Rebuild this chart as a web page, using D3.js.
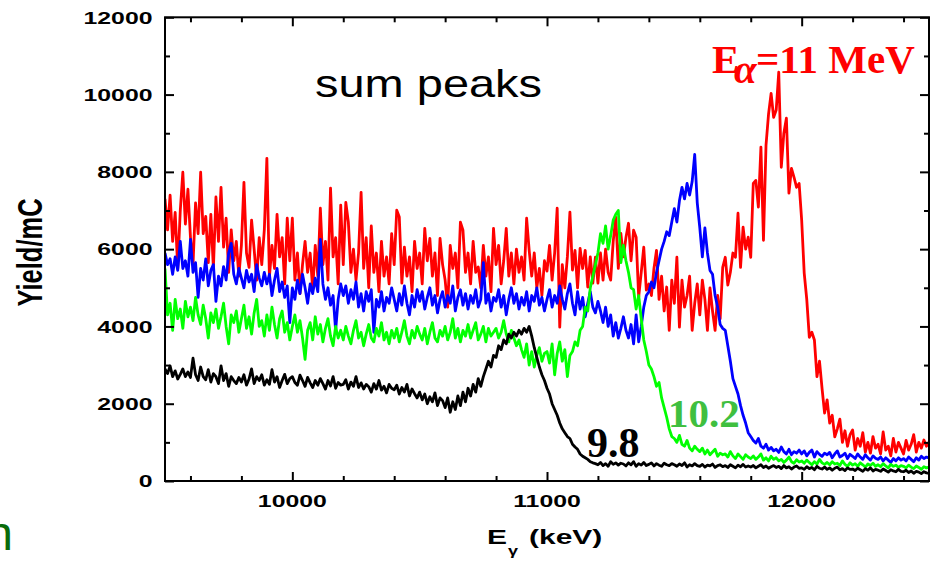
<!DOCTYPE html>
<html>
<head>
<meta charset="utf-8">
<script src="https://cdn.jsdelivr.net/npm/d3@7"></script>
<style>
  html, body { margin: 0; padding: 0; background: #fff; }
  svg { display: block; }
</style>
</head>
<body>
<svg id="chart" width="936" height="562"></svg>
<script>
// Gamma-ray spectra (yield per mC) in 10 keV bins from 9500 keV
const binStart = 9500;
const binWidth = 10;

// E_alpha = 9.8 MeV
const yield98 = [
  2900, 2780, 2980, 2700, 2850, 2640, 2760, 2900, 2700, 2820,
  2680, 3180, 2750, 2600, 2950, 2700, 2620, 2880, 2560, 2780,
  2700, 2520, 2980, 2600, 2780, 2450, 2700, 2600, 2520, 2680,
  2560, 2750, 2480, 2640, 2900, 2520, 2700, 2600, 2750, 2480,
  2620, 2500, 2880, 2560, 2700, 2420, 2600, 2760, 2520, 2650,
  2700, 2550, 2480, 2740, 2600, 2450, 2680, 2540, 2420, 2600,
  2480, 2650, 2520, 2380, 2600, 2460, 2700, 2400, 2550, 2480,
  2500, 2620, 2380, 2560, 2450, 2700, 2420, 2540, 2380, 2500,
  2440, 2300, 2520, 2380, 2600, 2350, 2450, 2280, 2500, 2400,
  2360, 2480, 2250, 2420, 2300, 2500, 2200, 2380, 2260, 2150,
  2300, 2100, 2250, 2000, 2180, 2050, 2280, 1950, 2150, 2080,
  1900, 2150, 1780, 2050, 1850, 2200, 1950, 2300, 2050, 2400,
  2200, 2500, 2300, 2650, 2450, 2700, 2900, 3100, 2950, 3250,
  3200, 3500, 3400, 3650, 3550, 3800, 3700, 3850, 3750, 3900,
  3800, 3950, 3850, 4000, 3750, 3450, 3200, 2950, 2750, 2600,
  2400, 2250, 2000, 1850, 1700, 1500, 1350, 1250, 1150, 1100,
  950, 880, 820, 700, 640, 600, 560, 500, 470, 450,
  420, 480, 400, 450, 380, 500, 430, 470, 410, 460,
  440, 390, 470, 420, 500, 380, 450, 410, 480, 400,
  430, 470, 390, 450, 410, 380, 460, 420, 400, 450,
  420, 380, 440, 400, 470, 360, 420, 390, 450, 400,
  380, 430, 360, 410, 390, 440, 350, 400, 420, 370,
  400, 350, 420, 380, 340, 410, 370, 430, 360, 390,
  360, 400, 340, 380, 420, 350, 390, 330, 370, 400,
  350, 380, 320, 400, 340, 370, 310, 360, 390, 330,
  340, 300, 370, 320, 350, 290, 380, 330, 310, 360,
  300, 340, 280, 330, 360, 290, 320, 270, 340, 300,
  310, 270, 330, 290, 250, 320, 280, 340, 260, 300,
  280, 250, 310, 270, 230, 290, 260, 240, 300, 250,
  240, 280, 220, 260, 200, 250, 230, 190, 240, 210,
  200
];

// E_alpha = 10.2 MeV
const yield102 = [
  5500, 4300, 4600, 3900, 4700, 4200, 4450, 3950, 4650, 4250,
  4500, 4150, 4750, 4300, 4050, 4550, 4200, 3700, 4350, 4100,
  4450, 3950, 4250, 4600, 4000, 3550, 4300, 4100, 4400, 3850,
  4200, 4550, 3950, 4250, 3800, 4350, 4700, 4000, 4150, 3750,
  4300, 3900, 4500, 4050, 3700, 4200, 4400, 3850, 4100, 3650,
  4000, 4300, 3850, 4150, 3700, 3150, 3900, 4100, 3650, 4250,
  3800, 4050, 3600, 3950, 4200, 3750, 3500, 4000, 3700, 3900,
  3650, 4000, 3750, 3550, 3900, 4150, 3700, 3850, 3500, 3800,
  4050, 3700, 3600, 3950, 3750, 4100, 3650, 3850, 3550, 3900,
  3700, 3950, 3600, 3850, 4150, 3750, 3550, 3900, 3700, 4000,
  3800, 3650, 3950, 3550, 3850, 4100, 3700, 3600, 3900, 3750,
  4000, 3650, 3850, 4200, 3700, 3950, 3600, 3900, 3750, 4050,
  3700, 3900, 4100, 3650, 3800, 4000, 3600, 3950, 3750, 3850,
  3950, 3700, 3850, 4150, 3800, 3600, 3900, 3700, 3500, 3650,
  3400, 3200, 3550, 3000, 3350, 2950, 3250, 3450, 3100, 3300,
  3350, 3050, 3550, 2750, 3300, 3600, 3100, 3400, 2700, 3250,
  3350, 3600, 3500, 3900, 4000, 4500, 4400, 5000, 5300, 5600,
  5900, 6400, 6150, 6600, 6000, 6350, 6750, 6900, 7000, 5650,
  6100, 5700, 5400, 5000, 4950, 4450, 4800, 4200, 3650, 3350,
  3000, 2900, 2700, 2450, 2550, 2150, 1900, 1650, 1350, 1150,
  1100, 1000, 1180, 950, 900, 1050, 850, 780, 900, 820,
  760, 850, 700, 800, 680, 750, 820, 640, 720, 680,
  700, 620, 760, 650, 580, 700, 630, 560, 680, 620,
  580, 650, 560, 620, 700, 540, 600, 520, 640, 560,
  600, 520, 560, 480, 540, 620, 500, 460, 550, 490,
  520, 460, 540, 480, 420, 500, 440, 560, 470, 430,
  480, 420, 500, 440, 460, 400, 520, 430, 380, 470,
  410, 450, 380, 470, 420, 360, 440, 400, 460, 380,
  420, 370, 450, 390, 340, 430, 380, 410, 350, 400,
  380, 340, 410, 360, 320, 390, 350, 300, 370, 340,
  360
];

// E_alpha = 10.6 MeV
const yield106 = [
  5900, 5600, 5750, 5350, 5800, 5450, 6200, 5500, 5700, 5300,
  6250, 5400, 5650, 4750, 5500, 5200, 5750, 5050, 5450, 5600,
  4650, 5300, 5050, 5550, 5200, 5900, 6150, 5350, 5100, 5500,
  5250, 5000, 5450, 5150, 5350, 4900, 5600, 5250, 5050, 5400,
  5100, 5350, 4800, 5200, 5500, 4900, 5150, 4750, 5050, 4100,
  5000, 4700, 5200, 4850, 5350, 5000, 4600, 5100, 4850, 5250,
  4900, 6250, 5100, 4700, 5000, 4550, 4800, 3900, 4700, 5100,
  4800, 5050, 4600, 4950, 4700, 5150, 4500, 4850, 4400, 4900,
  4650, 4950, 3850, 4700, 4500, 4900, 4400, 4750, 4600, 5000,
  4700, 4400, 4850, 4550, 5050, 4600, 4300, 4800, 4500, 4950,
  4650, 4900, 4450, 4750, 5000, 4550, 4800, 4350, 4700, 4900,
  4500, 4800, 4600, 5050, 4400, 4750, 4950, 4550, 4850, 4450,
  4800, 4600, 4950, 4500, 4700, 5650, 4600, 4850, 4400, 4750,
  4650, 4950, 4500, 4800, 4300, 4700, 5000, 4600, 4850, 4450,
  4750, 4550, 4900, 4400, 4800, 4650, 5000, 4550, 4750, 4400,
  4700, 4950, 4500, 4800, 4600, 5050, 4700, 4450, 4850, 5100,
  4600, 4300, 4900, 4450, 4750, 4250, 4600, 4900, 4500, 4350,
  4650, 4400, 4100, 4500, 4000, 4300, 3750, 4100, 3700, 3950,
  4250, 3900, 3700, 4050, 3550, 4300, 3600, 4000, 4500, 4800,
  4900, 5150, 5000, 5400, 5700, 6000, 6200, 6450, 6350, 6700,
  7050, 6700, 7250, 7600, 7300, 7700, 7400, 7750, 8450, 7200,
  6550, 5800, 6550, 5900, 5450, 5350, 4800, 4500, 4050, 3950,
  3900, 3500, 3100, 2650, 2450, 2250, 1950, 1700, 1500, 1250,
  1150, 1050, 980, 1100, 900, 850, 950, 800, 870, 780,
  820, 740, 880, 760, 700, 820, 680, 760, 720, 800,
  700, 780, 650, 740, 800, 620, 760, 690, 640, 720,
  680, 740, 600, 700, 780, 620, 660, 720, 580, 690,
  640, 580, 700, 620, 560, 680, 600, 540, 650, 590,
  560, 620, 520, 600, 540, 480, 580, 520, 600, 540,
  580, 520, 620, 560, 500, 600, 540, 640, 580, 620,
  600
];

// E_alpha = 11 MeV
const yield110 = [
  7300, 6500, 7400, 6200, 6950, 5500, 7000, 7990, 6650, 7550,
  6300, 5600, 7200, 6400, 7990, 6400, 6850, 5650, 6900, 5500,
  7350, 6200, 7600, 6050, 6800, 5400, 6500, 5700, 6200, 5300,
  6100, 7730, 5900, 5530, 6750, 6000, 5200, 6300, 5600, 6500,
  8350, 5280, 6100, 5500, 6900, 5800, 6300, 5100, 6800, 5700,
  6800, 5200, 5900, 4850, 5600, 6200, 5400, 5900, 4950, 6100,
  5300, 7060, 5600, 6200, 5200, 7580, 5800, 6300, 5100, 7140,
  5600, 7210, 6700, 5400, 6000, 5200, 5900, 7470, 5500, 6300,
  5000, 6600, 5400, 5900, 4900, 6200, 5300, 5800, 5100, 6400,
  5600, 7010, 6830, 5120, 6050, 5300, 5800, 4900, 6200, 5500,
  5900, 5100, 6540, 5700, 6280, 5300, 5900, 4800, 6280, 5600,
  5200, 4500, 6100, 5500, 5900, 5000, 6700, 6490, 5400, 5900,
  5100, 6200, 5400, 5540, 5000, 6100, 5300, 5800, 4900, 6540,
  5600, 6100, 5100, 5700, 6540, 5300, 5900, 5100, 6000, 5400,
  5800, 5200, 6800, 5970, 5300, 5900, 5000, 5500, 4800, 5700,
  5430, 6100, 5200, 5900, 7060, 3980, 5600, 5000, 5800, 6960,
  5460, 5970, 5000, 6020, 5500, 5970, 5020, 5800, 5120, 5790,
  5120, 5900, 5200, 6000, 5400, 5200, 6200, 6830, 5500, 6410,
  5800, 6300, 6670, 5700, 6490, 6310, 4760, 5400, 6050, 4940,
  5100, 4800, 5500, 5970, 4700, 5300, 4400, 5020, 3900, 5200,
  4600, 5790, 3980, 5200, 4500, 4800, 5300, 3900, 4600, 5100,
  4300, 5200, 4700, 3900, 5000, 4400, 3900, 4800, 4200, 5530,
  5790, 5070, 5400, 5900, 5790, 6930, 5530, 6570, 6000, 6310,
  5790, 7700, 7780, 7090, 8640, 6230, 8690, 9500, 10030, 9410,
  9600, 10580, 8120, 9000, 9390, 7450, 8090, 7860, 7600, 7700,
  6750, 5380, 4700, 3720, 3850, 3650, 2700, 3100, 2400, 1760,
  2100, 1500, 1700, 1140, 1350, 1600, 1000, 1300, 900, 1200,
  1320, 800, 1100, 900, 1250, 750, 1000, 720, 1150, 850,
  950, 700, 1270, 800, 900, 650, 1100, 750, 1000, 850,
  700, 1050, 800, 950, 1200, 750, 1000, 850, 1060, 900,
  1000
];

const xMajorTicks = [10000, 11000, 12000];
const yMajorTicks = [0, 2000, 4000, 6000, 8000, 10000, 12000];

// ---------------------------------------------------------------
const svg = d3.select('#chart');
const plot = { left: 165, right: 929, top: 17.3, bottom: 481 };

const x = d3.scaleLinear().domain([9500, 12500]).range([plot.left, plot.right]);
const y = d3.scaleLinear().domain([0, 12000]).range([plot.bottom, plot.top]);

const xMinorTicks = d3.range(9600, 12500, 200).filter(v => !xMajorTicks.includes(v));
const yMinorTicks = d3.range(1000, 12000, 2000);

svg.append('defs').append('clipPath').attr('id', 'plotClip')
  .append('rect')
  .attr('x', plot.left).attr('y', plot.top)
  .attr('width', plot.right - plot.left).attr('height', plot.bottom - plot.top);

// spectra, drawn back to front
const series = [
  { values: yield110, color: '#ff0000' },
  { values: yield106, color: '#0000ff' },
  { values: yield102, color: '#00ff00' },
  { values: yield98,  color: '#000000' }
];

const line = d3.line()
  .x((d, i) => x(binStart + i * binWidth))
  .y(d => y(d));

svg.append('g').attr('clip-path', 'url(#plotClip)')
  .selectAll('path').data(series).join('path')
  .attr('d', s => line(s.values))
  .attr('fill', 'none')
  .attr('stroke', s => s.color)
  .attr('stroke-width', 2.8)
  .attr('stroke-linejoin', 'round');

// ticks on all four sides, pointing inward
function ticks(axisGen, transform, values, size) {
  const g = svg.append('g').attr('transform', transform)
    .call(axisGen.tickValues(values).tickSizeInner(-size).tickSizeOuter(0).tickFormat(''));
  g.select('.domain').remove();
  g.selectAll('line').attr('stroke', '#000').attr('stroke-width', 2);
}
ticks(d3.axisBottom(x), `translate(0,${plot.bottom})`, xMajorTicks, 9);
ticks(d3.axisBottom(x), `translate(0,${plot.bottom})`, xMinorTicks, 5);
ticks(d3.axisTop(x), `translate(0,${plot.top})`, xMajorTicks, 9);
ticks(d3.axisTop(x), `translate(0,${plot.top})`, xMinorTicks, 5);
ticks(d3.axisLeft(y), `translate(${plot.left},0)`, yMajorTicks, 9);
ticks(d3.axisLeft(y), `translate(${plot.left},0)`, yMinorTicks, 5);
ticks(d3.axisRight(y), `translate(${plot.right},0)`, yMajorTicks, 9);
ticks(d3.axisRight(y), `translate(${plot.right},0)`, yMinorTicks, 5);

svg.append('rect')
  .attr('x', plot.left).attr('y', plot.top)
  .attr('width', plot.right - plot.left).attr('height', plot.bottom - plot.top)
  .attr('fill', 'none').attr('stroke', '#000').attr('stroke-width', 2);

// text helper: places text in a horizontally stretched group
const SANS = '"Liberation Sans", Arial, Helvetica, sans-serif';
const SERIF = '"Liberation Serif", "Times New Roman", Times, serif';
function addText(px, py, str, o) {
  const g = svg.append('g')
    .attr('transform', `translate(${px},${py}) scale(${o.sx || 1},1)` + (o.rot ? ` rotate(${o.rot})` : ''));
  const t = g.append('text')
    .attr('x', 0).attr('y', 0)
    .attr('text-anchor', o.anchor || 'start')
    .attr('font-family', o.family || SANS)
    .attr('font-size', o.size)
    .attr('font-weight', o.weight || 'normal')
    .attr('fill', o.fill || '#000');
  if (str !== null) t.text(str);
  return t;
}

// tick labels
yMajorTicks.forEach(v => addText(152.5, y(v) + 6.2, String(v),
  { size: 17, weight: 'bold', anchor: 'end', sx: 1.46 }));
xMajorTicks.forEach(v => addText(x(v), 507, String(v),
  { size: 17, weight: 'bold', anchor: 'middle', sx: 1.46 }));

// axis titles
addText(42, 252.5, 'Yield/mC', { size: 25.5, weight: 'bold', anchor: 'middle', sx: 1.37, rot: -90 });

const xt = addText(487, 544, null, { size: 20, weight: 'bold', sx: 1.5 });
xt.append('tspan').attr('x', 0).text('E');
xt.append('tspan').attr('x', 14).attr('dy', 11).attr('font-size', 12).text('γ');
xt.append('tspan').attr('x', 28).attr('dy', -11).text('(keV)');

// annotations
addText(315, 97, 'sum peaks', { size: 38.5, sx: 1.22 });

const ea = addText(712, 73, null, { size: 41, weight: 'bold', family: SERIF, fill: '#ff0000' });
ea.append('tspan').attr('x', 0).text('E');
ea.append('tspan').attr('x', 22).attr('dy', 10).attr('font-style', 'italic').text('α');
ea.append('tspan').attr('x', 44).attr('dy', -10).text('=11 MeV');

addText(587, 457, '9.8', { size: 42, weight: 'bold', family: SERIF, fill: '#000' });
addText(668, 427, '10.2', { size: 41, weight: 'bold', family: SERIF, fill: '#3fbf3f' });

// partially visible label at the left edge
addText(13, 550, 'n', { size: 48, anchor: 'end', fill: '#0a6b0a' });
</script>
</body>
</html>
